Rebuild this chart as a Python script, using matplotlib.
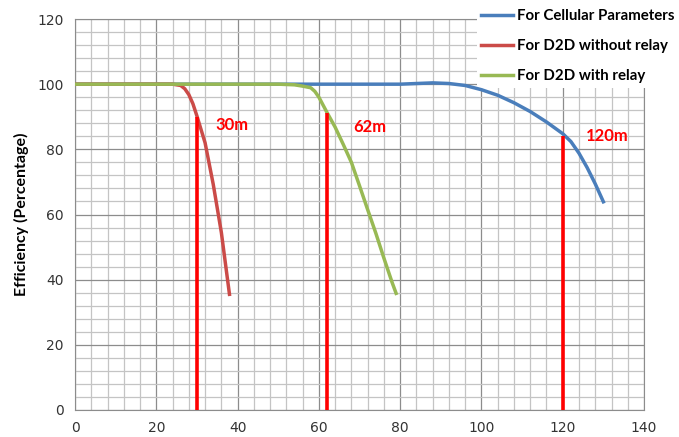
import numpy as np
import matplotlib
matplotlib.use('Agg')
import matplotlib.pyplot as plt
from matplotlib.ticker import MultipleLocator

# values
cell_x = [0, 10, 20, 30, 40, 50, 60, 70, 80, 88, 92, 96, 100, 104, 108, 112, 116, 120, 122, 124, 126, 128, 130]
cell_y = [100, 100, 100, 100, 100, 100, 100, 100, 100, 100.4, 100.2, 99.6, 98.3, 96.6, 94.3, 91.6, 88.4, 84.8, 82.4, 78.8, 74.4, 69.4, 63.9]

norelay_x = [0, 10, 20, 24, 26, 27, 28, 29, 30, 32, 34, 36, 38]
norelay_y = [100, 100, 100, 100, 99.6, 98.6, 96.8, 94, 90.2, 82, 69.3, 54.5, 35.5]

relay_x = [0, 10, 20, 30, 40, 50, 54, 56, 58, 59, 60, 62, 64, 66, 68, 70, 72, 74, 76, 78, 79]
relay_y = [100, 100, 100, 100, 100, 100, 99.8, 99.4, 98.9, 97.8, 96, 91.3, 86.8, 81.5, 76, 68.8, 61.5, 54.3, 46.6, 39.2, 35.8]

marks = [30, 62, 120]
mark_tops = [90, 91, 84]
mark_labels = ['30m', '62m', '120m']
label_x = [38.5, 72.5, 131]
label_y = [87.4, 86.8, 84.2]

fig = plt.figure(figsize=(6.79, 4.37), dpi=100)
ax = fig.add_axes([0.1105, 0.0618, 0.8380, 0.8947])

ax.set_xlim(0, 140)
ax.set_ylim(0, 120)
ax.xaxis.set_major_locator(MultipleLocator(20))
ax.yaxis.set_major_locator(MultipleLocator(20))
ax.xaxis.set_minor_locator(MultipleLocator(4))
ax.yaxis.set_minor_locator(MultipleLocator(4))
ax.grid(which='major', color='#8c8c8c', linewidth=0.9)
ax.grid(which='minor', color='#c4c4c4', linewidth=0.9)
ax.set_axisbelow(True)
for s in ax.spines.values():
    s.set_color('#8c8c8c')
ax.tick_params(which='both', length=0)
ax.tick_params(labelsize=10, labelcolor='#333333', pad=8)

ax.plot(cell_x, cell_y, color='#4A7EBB', lw=2.5, solid_joinstyle='round', label='For Cellular Parameters', zorder=3)
ax.plot(norelay_x, norelay_y, color='#CB4B48', lw=2.5, solid_joinstyle='round', label='For D2D without relay', zorder=3)
ax.plot(relay_x, relay_y, color='#98B954', lw=2.5, solid_joinstyle='round', label='For D2D with relay', zorder=3)

for m, top, t, lx, ly in zip(marks, mark_tops, mark_labels, label_x, label_y):
    ax.vlines(m, 0, top, color='#FF0000', lw=2.6, zorder=4)
    ax.text(lx, ly, t, color='#FF0000', fontsize=12, fontweight='bold',
            family='Lato', ha='center', va='center', zorder=5)

ax.set_ylabel('Efficiency (Percentage)', fontsize=11.5, fontweight='bold',
              family='Lato', labelpad=6)

# legend sits partly outside the plot, under the curves
leg = ax.legend(loc='upper right', bbox_to_anchor=(1.0, 1.0 - 5 / 437),
                bbox_transform=fig.transFigure, frameon=True,
                prop={'family': 'Lato', 'weight': 'bold', 'size': 10.8},
                handlelength=2.1, handletextpad=0.3, labelspacing=1.05,
                borderaxespad=0.0, borderpad=0.3)
leg.get_frame().set_facecolor('white')
leg.get_frame().set_edgecolor('none')
leg.get_frame().set_alpha(1)
leg.set_zorder(2.5)

fig.savefig('out.png', dpi=100)
